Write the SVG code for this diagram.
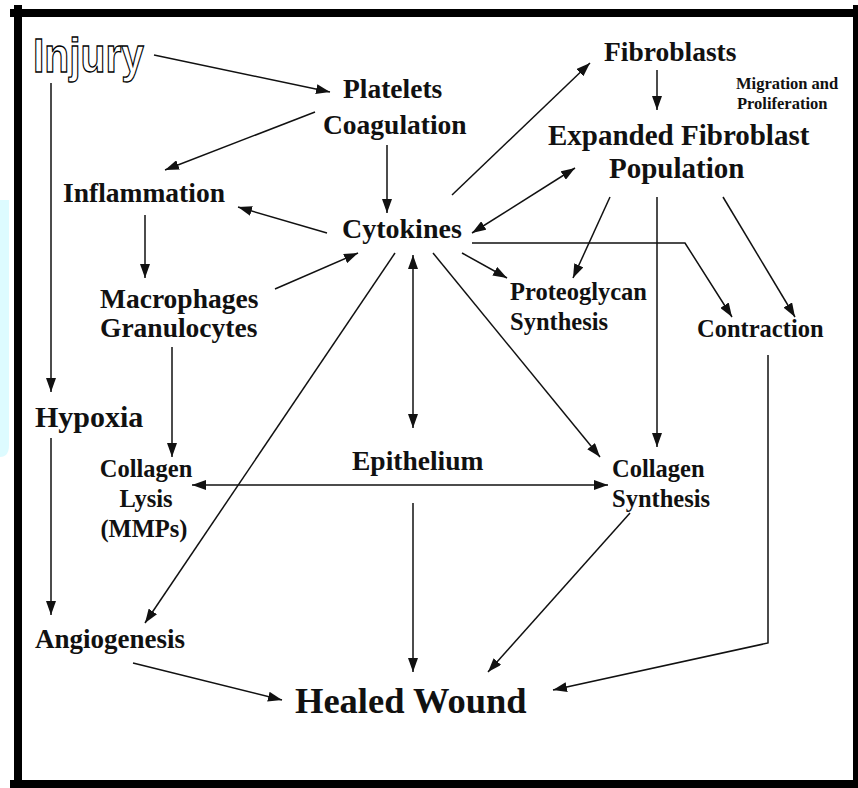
<svg xmlns="http://www.w3.org/2000/svg" width="858" height="788" viewBox="0 0 858 788">
<style>
.t{font-family:"Liberation Serif","Times New Roman",serif;font-weight:bold;fill:#111}
.c{fill:none;stroke:#111;stroke-width:1.5}
</style>
<defs>
<marker id="ah" markerUnits="userSpaceOnUse" markerWidth="14" markerHeight="10" refX="14" refY="5" orient="auto-start-reverse">
<path d="M0,0 L14,5 L0,10 z" fill="#111"/>
</marker>
</defs>
<rect width="858" height="788" fill="#fff"/>
<path d="M0,200 H9 V445 Q9,457 0,457 z" fill="#ddfbff"/>
<g id="frame" fill="#000">
<rect x="10" y="9" width="848" height="8"/>
<rect x="14" y="5" width="8" height="783"/>
<rect x="10" y="780" width="848" height="8"/>
<rect x="853" y="5" width="5" height="783"/>
</g>
<g id="connectors" class="c">
<path d="M154,55 L330,92" marker-end="url(#ah)"/>
<path d="M315,112 L165,170" marker-end="url(#ah)"/>
<path d="M387,145 L387,213" marker-end="url(#ah)"/>
<path d="M51,83 L51,392" marker-end="url(#ah)"/>
<path d="M327,233 L238,207" marker-end="url(#ah)"/>
<path d="M145,215 L145,278" marker-end="url(#ah)"/>
<path d="M275,289 L358,253" marker-end="url(#ah)"/>
<path d="M172,347 L172,457" marker-end="url(#ah)"/>
<path d="M395,253 L145,623" marker-end="url(#ah)"/>
<path d="M413,255 L413,428" marker-start="url(#ah)" marker-end="url(#ah)"/>
<path d="M51,438 L51,615" marker-end="url(#ah)"/>
<path d="M192,485 L608,485" marker-start="url(#ah)" marker-end="url(#ah)"/>
<path d="M413,503 L413,672" marker-end="url(#ah)"/>
<path d="M133,663 L282,700" marker-end="url(#ah)"/>
<path d="M452,195 L590,63" marker-end="url(#ah)"/>
<path d="M657,70 L657,110" marker-end="url(#ah)"/>
<path d="M575,168 L472,233" marker-start="url(#ah)" marker-end="url(#ah)"/>
<path d="M462,253 L507,278" marker-end="url(#ah)"/>
<path d="M610,197 L573,278" marker-end="url(#ah)"/>
<path d="M657,197 L657,447" marker-end="url(#ah)"/>
<path d="M723,197 L795,317" marker-end="url(#ah)"/>
<path d="M472,243 L685,243 L732,317" marker-end="url(#ah)"/>
<path d="M433,253 L600,457" marker-end="url(#ah)"/>
<path d="M768,355 L768,643 L553,690" marker-end="url(#ah)"/>
<path d="M630,513 L488,672" marker-end="url(#ah)"/>
</g>
<g id="injury"><text x="33" y="72" font-family="Liberation Sans, Arial, sans-serif" font-weight="bold" font-size="49" fill="#fff" stroke="#000" stroke-width="1.3" textLength="111" lengthAdjust="spacingAndGlyphs">Injury</text></g>
<g id="platelets"><text class="t" x="343" y="98" font-size="27.5">Platelets</text><text class="t" x="323" y="134" font-size="27.5">Coagulation</text></g>
<g id="fibroblasts"><text class="t" x="604" y="61" font-size="27.5">Fibroblasts</text></g>
<g id="migration"><text class="t" x="736" y="89" font-size="16.5">Migration and</text><text class="t" x="737" y="109" font-size="16.5">Proliferation</text></g>
<g id="expanded"><text class="t" x="548" y="145" font-size="29">Expanded Fibroblast</text><text class="t" x="609" y="178" font-size="29">Population</text></g>
<g id="inflammation"><text class="t" x="63" y="202" font-size="27.5">Inflammation</text></g>
<g id="cytokines"><text class="t" x="342" y="238" font-size="28">Cytokines</text></g>
<g id="macrophages"><text class="t" x="100" y="308" font-size="27.5">Macrophages</text><text class="t" x="100" y="337" font-size="27.5">Granulocytes</text></g>
<g id="proteoglycan"><text class="t" x="510" y="300" font-size="24.5">Proteoglycan</text><text class="t" x="510" y="330" font-size="24.5">Synthesis</text></g>
<g id="contraction"><text class="t" x="697" y="337" font-size="24.5">Contraction</text></g>
<g id="hypoxia"><text class="t" x="35" y="427" font-size="30">Hypoxia</text></g>
<g id="epithelium"><text class="t" x="352" y="470" font-size="27.5">Epithelium</text></g>
<g id="collagen-lysis" text-anchor="middle"><text class="t" x="146" y="477" font-size="24.5">Collagen</text><text class="t" x="146" y="507" font-size="24.5">Lysis</text><text class="t" x="144" y="537" font-size="24.5">(MMPs)</text></g>
<g id="collagen-synthesis"><text class="t" x="612" y="477" font-size="24.5">Collagen</text><text class="t" x="612" y="507" font-size="24.5">Synthesis</text></g>
<g id="angiogenesis"><text class="t" x="35" y="648" font-size="27">Angiogenesis</text></g>
<g id="healed"><text class="t" x="295" y="713" font-size="36.5">Healed Wound</text></g>
</svg>
